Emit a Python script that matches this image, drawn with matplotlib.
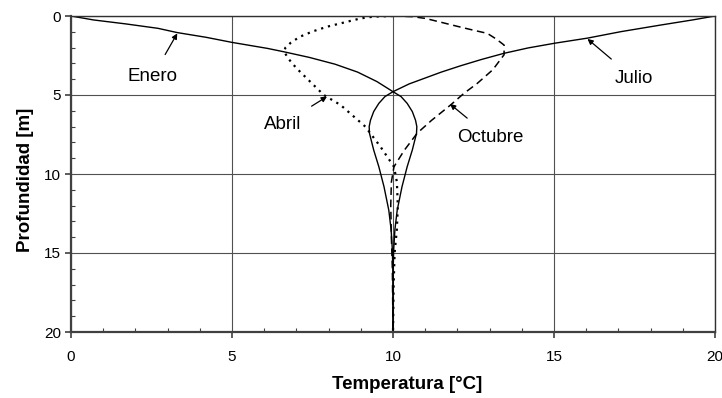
import matplotlib
matplotlib.use('Agg')
import matplotlib.pyplot as plt
from matplotlib.ticker import MultipleLocator

plt.rcParams['font.family'] = ['Liberation Sans', 'DejaVu Sans']

# perfiles de temperatura (temperatura [°C], profundidad [m])
enero_t = [0.0, 0.7, 1.7, 2.7, 3.3, 4.2, 5.0, 6.1, 6.6, 7.4, 8.2, 8.9, 9.5, 10.0,
           10.25, 10.44, 10.6, 10.7, 10.74, 10.73, 10.6, 10.44, 10.28, 10.13,
           10.06, 10.02, 10.0, 10.0]
enero_z = [0.0, 0.25, 0.5, 0.78, 1.05, 1.35, 1.67, 2.05, 2.26, 2.62, 3.05, 3.55, 4.15, 4.79,
           5.1, 5.53, 6.05, 6.6, 7.0, 7.43, 8.48, 9.54, 10.8, 12.3,
           13.5, 14.8, 16.5, 20.0]

julio_t = [20.0, 19.3, 18.32, 17.08, 16.04, 15.03, 14.2, 13.45, 12.75, 12.1, 11.5,
           11.06, 10.5, 10.0,
           9.75, 9.56, 9.4, 9.3, 9.26, 9.27, 9.4, 9.56, 9.72, 9.87,
           9.94, 9.98, 10.0, 10.0]
julio_z = [0.0, 0.25, 0.57, 0.99, 1.4, 1.72, 2.02, 2.36, 2.75, 3.15, 3.55,
           3.88, 4.3, 4.79,
           5.1, 5.53, 6.05, 6.6, 7.0, 7.43, 8.48, 9.54, 10.8, 12.3,
           13.5, 14.8, 16.5, 20.0]

abril_t = [10.0, 9.4, 9.0, 8.58, 7.95, 7.5, 7.1, 6.82, 6.66, 6.62, 6.75, 7.0, 7.4,
           7.85, 8.37, 9.14, 9.61, 10.03, 10.12, 10.15, 10.12, 10.05, 10.02, 10.0]
abril_z = [0.0, 0.04, 0.15, 0.36, 0.68, 0.98, 1.32, 1.7, 2.0, 2.26, 2.7, 3.3, 4.1,
           5.0, 5.63, 7.0, 8.27, 9.54, 10.5, 12.0, 13.5, 15.0, 17.0, 20.0]

octubre_t = [10.0, 10.6, 11.0, 11.42, 12.05, 12.5, 12.93, 13.2, 13.45, 13.45, 13.1,
             12.62, 12.2, 11.79, 11.2, 10.75, 10.35, 10.03, 9.95, 9.93, 9.95,
             9.98, 10.0]
octubre_z = [0.0, 0.04, 0.15, 0.36, 0.68, 0.9, 1.1, 1.45, 1.84, 2.45, 3.4,
             4.26, 4.9, 5.63, 6.6, 7.42, 8.5, 9.54, 10.5, 12.0, 14.0, 16.0, 20.0]

# etiquetas: (texto, punta de flecha, posicion del texto)
etiquetas = [
    ('Enero', (3.3, 1.1), (2.53, 3.84)),
    ('Abril', (7.95, 5.1), (6.58, 6.84)),
    ('Julio', (16.04, 1.45), (17.49, 3.95)),
    ('Octubre', (11.77, 5.57), (13.03, 7.68)),
]

fig = plt.figure(figsize=(7.22, 3.98), dpi=100)
ax = fig.add_axes([71 / 722, 1 - 332 / 398, 644 / 722, 316 / 398])

ax.plot(enero_t, enero_z, color='black', lw=1.0)
ax.plot(julio_t, julio_z, color='black', lw=1.0)
ax.plot(abril_t, abril_z, color='black', lw=1.6, linestyle=(0, (1, 2.2)))
ax.plot(octubre_t, octubre_z, color='black', lw=1.1, linestyle=(0, (5, 3)))

for texto, punta, pos in etiquetas:
    ax.annotate(texto, xy=punta, xytext=pos, ha='center', va='center', fontsize=13.5,
                arrowprops=dict(arrowstyle='-|>', color='black', lw=0.9,
                                mutation_scale=8, shrinkA=9, shrinkB=0))

ax.set_xlim(0, 20)
ax.set_ylim(20, 0)
ax.xaxis.set_major_locator(MultipleLocator(5))
ax.xaxis.set_minor_locator(MultipleLocator(1))
ax.yaxis.set_major_locator(MultipleLocator(5))
ax.yaxis.set_minor_locator(MultipleLocator(1))

ax.grid(True, which='major', color='#505050', lw=0.8)
ax.tick_params(which='major', direction='out', length=4, width=1.2, labelsize=11,
               color='#404040')
ax.tick_params(which='minor', direction='in', length=3, width=0.8, color='#404040')
ax.tick_params(axis='x', which='major', pad=9)
ax.tick_params(axis='y', which='major', pad=3)

for lado in ['left', 'bottom']:
    ax.spines[lado].set_linewidth(1.6)
    ax.spines[lado].set_color('#404040')
for lado in ['top', 'right']:
    ax.spines[lado].set_linewidth(1.0)
    ax.spines[lado].set_color('#303030')

ax.set_xlabel('Temperatura [°C]', fontsize=13.5, fontweight='bold', va='center')
ax.set_ylabel('Profundidad [m]', fontsize=13.5, fontweight='bold', va='center')
ax.xaxis.set_label_coords(0.522, -0.165)
ax.yaxis.set_label_coords(-0.07, 0.48)

fig.savefig('out.png', dpi=100)
